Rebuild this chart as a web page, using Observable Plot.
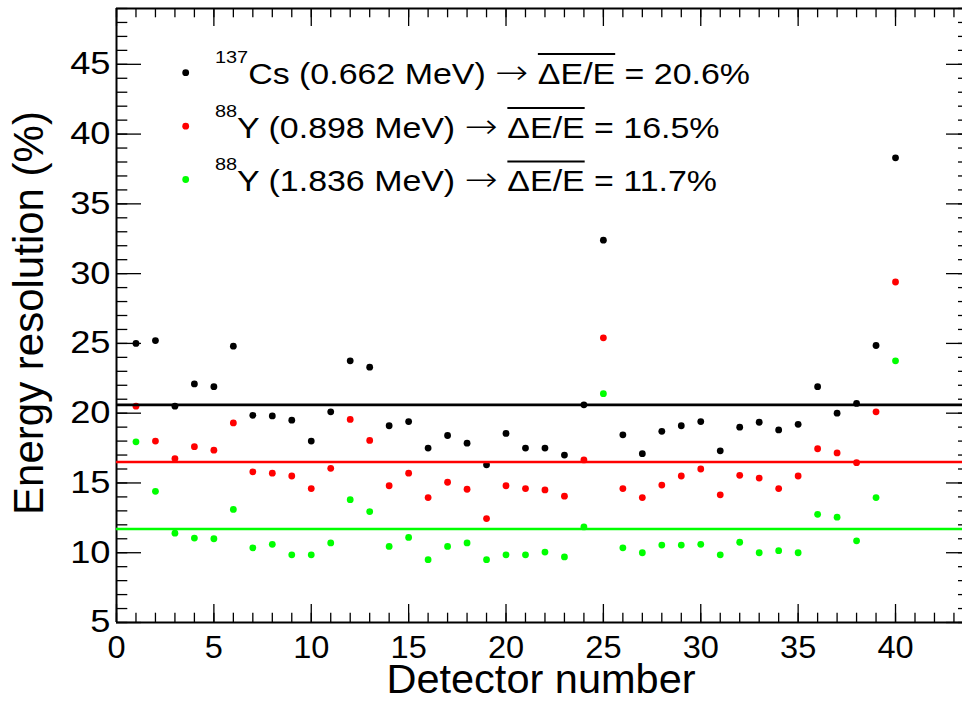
<!DOCTYPE html>
<html>
<head>
<meta charset="utf-8">
<script src="https://cdn.jsdelivr.net/npm/d3@7"></script>
<script src="https://cdn.jsdelivr.net/npm/@observablehq/plot@0.6"></script>
<style>
  html, body { margin: 0; padding: 0; background: #ffffff; }
  #chart { position: relative; width: 962px; height: 702px; overflow: hidden; background: #ffffff; }
</style>
</head>
<body>
<div id="chart"></div>
<script>
// ---------------- data ----------------
const detectors = [1,2,3,4,5,6,7,8,9,10,11,12,13,14,15,16,17,18,19,20,
                   21,22,23,24,25,26,27,28,29,30,31,32,33,34,35,36,37,38,39,40];

// 137Cs (0.662 MeV)
const cs662 = [25.0,25.2,20.5,22.1,21.9,24.8,19.85,19.8,19.5,18.0,
               20.1,23.75,23.3,19.1,19.4,17.5,18.4,17.85,16.3,18.55,
               17.5,17.5,17.0,20.6,32.4,18.45,17.1,18.7,19.1,19.4,
               17.3,19.0,19.35,18.8,19.2,21.9,20.0,20.7,24.85,38.3];

// 88Y (0.898 MeV)
const y898 = [20.5,18.0,16.75,17.6,17.35,19.3,15.8,15.7,15.5,14.6,
              16.05,19.55,18.05,14.8,15.7,13.95,15.05,14.55,12.45,14.8,
              14.6,14.5,14.05,16.65,25.4,14.6,13.95,14.85,15.5,16.0,
              14.15,15.55,15.35,14.6,15.5,17.45,17.15,16.45,20.1,29.4];

// 88Y (1.836 MeV)
const y1836 = [17.95,14.4,11.4,11.05,11.0,13.1,10.35,10.6,9.85,9.85,
               10.7,13.8,12.95,10.45,11.1,9.5,10.45,10.7,9.5,9.85,
               9.85,10.05,9.7,11.85,21.4,10.35,10.0,10.55,10.55,10.6,
               9.85,10.75,10.0,10.15,10.0,12.75,12.55,10.85,13.95,23.75];

const seriesNames = ["137Cs (0.662 MeV)", "88Y (0.898 MeV)", "88Y (1.836 MeV)"];
const isotopeMass = ["137", "88", "88"];
const isotopeSymbol = ["Cs", "Y", "Y"];
const gammaEnergies = ["0.662", "0.898", "1.836"];
const meanValues = [20.6, 16.5, 11.7];
const seriesColors = ["#000000", "#ff0000", "#00ff00"];

const xTickValues = [0, 5, 10, 15, 20, 25, 30, 35, 40];
const yTickValues = [5, 10, 15, 20, 25, 30, 35, 40, 45];
const xLabel = "Detector number";
const yLabel = "Energy resolution (%)";

// ---------------- layout ----------------
const FONT = "'Liberation Sans', Arial, Helvetica, sans-serif";
const W = 962, H = 702;
const X_DOMAIN = [0, 43.85], Y_DOMAIN = [5, 49];
const X_RANGE = [116, 970], Y_RANGE = [622, 8];
const pxX = (X_RANGE[1] - X_RANGE[0]) / (X_DOMAIN[1] - X_DOMAIN[0]);
const pxY = (Y_RANGE[0] - Y_RANGE[1]) / (Y_DOMAIN[1] - Y_DOMAIN[0]);

const xMinor = d3.range(Math.ceil(X_DOMAIN[0]), Math.floor(X_DOMAIN[1]) + 1);
const yMinor = d3.range(Y_DOMAIN[0], Y_DOMAIN[1] + 1);

const series = [cs662, y898, y1836];
const points = [];
series.forEach((vals, s) => vals.forEach((v, i) => points.push({det: detectors[i], value: v, series: seriesNames[s]})));
const means = meanValues.map((m, s) => ({mean: m, series: seriesNames[s]}));

const tickW = 1.3;
const xl = X_DOMAIN[0], xr = X_DOMAIN[1], yb = Y_DOMAIN[0], yt = Y_DOMAIN[1];

const plot = Plot.plot({
  width: W, height: H,
  marginLeft: 116, marginRight: 0, marginTop: 8, marginBottom: 80,
  x: {domain: X_DOMAIN, range: X_RANGE, axis: null},
  y: {domain: Y_DOMAIN, range: Y_RANGE, axis: null},
  color: {type: "ordinal", domain: seriesNames, range: seriesColors},
  style: {fontFamily: FONT, background: "#ffffff", color: "#000000"},
  marks: [
    // frame
    Plot.ruleY([yb, yt], {y: d => d, x1: xl, x2: xr, stroke: "#000", strokeWidth: 2}),
    Plot.ruleX([xl, xr], {x: d => d, y1: yb, y2: yt, stroke: "#000", strokeWidth: 2}),
    // bottom ticks
    Plot.ruleX(xMinor, {x: d => d, y1: yb, y2: yb + 9.3 / pxY, stroke: "#000", strokeWidth: tickW}),
    Plot.ruleX(xTickValues, {x: d => d, y1: yb, y2: yb + 18 / pxY, stroke: "#000", strokeWidth: tickW}),
    // top ticks
    Plot.ruleX(xMinor, {x: d => d, y1: yt, y2: yt - 9.3 / pxY, stroke: "#000", strokeWidth: tickW}),
    Plot.ruleX(xTickValues, {x: d => d, y1: yt, y2: yt - 18 / pxY, stroke: "#000", strokeWidth: tickW}),
    // left ticks
    Plot.ruleY(yMinor, {y: d => d, x1: xl, x2: xl + 11.3 / pxX, stroke: "#000", strokeWidth: tickW}),
    Plot.ruleY(yTickValues, {y: d => d, x1: xl, x2: xl + 25 / pxX, stroke: "#000", strokeWidth: tickW}),
    // right ticks
    Plot.ruleY(yMinor, {y: d => d, x1: xr, x2: xr - 12 / pxX, stroke: "#000", strokeWidth: tickW}),
    Plot.ruleY(yTickValues, {y: d => d, x1: xr, x2: xr - 24 / pxX, stroke: "#000", strokeWidth: tickW}),
    // tick labels
    Plot.text(xTickValues, {x: d => d, y: yb, text: d => String(d), lineAnchor: "top", dy: 13,
      fontSize: 31, fill: "#000", fontFamily: FONT, ariaLabel: "x-tick-labels"}),
    Plot.text(yTickValues, {x: xl, y: d => d, text: d => String(d), textAnchor: "end", dx: -6,
      fontSize: 31, fill: "#000", fontFamily: FONT, ariaLabel: "y-tick-labels"}),
    // data points
    Plot.dot(points, {x: "det", y: "value", fill: "series", r: 3.4, stroke: "none"}),
    // mean lines
    Plot.ruleY(means, {y: "mean", x1: xl, x2: xr, stroke: "series", strokeWidth: 2.7})
  ]
});

document.getElementById("chart").appendChild(plot);

const svg = d3.select(plot);

// widen the tick-label glyphs horizontally (about each label's anchor point)
function stretchTexts(sel, k) {
  sel.selectAll("text").each(function() {
    const tr = this.getAttribute("transform");
    const x = +this.getAttribute("x") || 0, y = +this.getAttribute("y") || 0;
    const extra = `translate(${x},${y}) scale(${k},1) translate(${-x},${-y})`;
    this.setAttribute("transform", (tr ? tr + " " : "") + extra);
  });
}
let ySel = svg.selectAll('g[aria-label="y-tick-labels"]');
if (ySel.empty()) ySel = d3.select(svg.selectAll('g[aria-label="text"]').nodes()[1]);
stretchTexts(ySel, 1.17);
let xSel = svg.selectAll('g[aria-label="x-tick-labels"]');
if (xSel.empty()) xSel = d3.select(svg.selectAll('g[aria-label="text"]').nodes()[0]);
stretchTexts(xSel, 1.05);

// ---------------- titles & legend ----------------
const ann = svg.append("g").attr("font-family", FONT).attr("fill", "#000");

ann.append("text")
  .attr("x", 541).attr("y", 693)
  .attr("text-anchor", "middle")
  .attr("font-size", 41.5)
  .text(xLabel);

ann.append("text")
  .attr("transform", "translate(43,313) rotate(-90)")
  .attr("text-anchor", "middle")
  .attr("font-size", 42)
  .text(yLabel);

const legendBaselines = [83.5, 137.5, 191];
const legendMarkers = [72.7, 126.2, 179.5];
const stretch = 1.17;
seriesNames.forEach((name, s) => {
  ann.append("circle")
    .attr("cx", 185.7).attr("cy", legendMarkers[s]).attr("r", 3.4)
    .attr("fill", seriesColors[s]);
  const g = ann.append("g")
    .attr("transform", `translate(215,${legendBaselines[s]}) scale(${stretch},1)`);
  const t = g.append("text").attr("x", 0).attr("y", 0).attr("font-size", 29)
    .attr("text-anchor", "start")
    .style("white-space", "pre");
  const sup = isotopeMass[s];
  const main = `${isotopeSymbol[s]} (${gammaEnergies[s]} MeV) `;
  const arrow = "\u2192";
  const over = "\u0394E/E";
  const tail = ` = ${meanValues[s].toFixed(1)}%`;
  t.append("tspan").attr("font-size", 17).attr("dy", -21).text(sup);
  t.append("tspan").attr("font-size", 29).attr("dy", 21).text(main);
  t.append("tspan").attr("font-family", "'DejaVu Sans', sans-serif").attr("font-size", 34)
    .attr("font-weight", 300).text(arrow);
  t.append("tspan").text(" ");
  t.append("tspan").text(over);
  t.append("tspan").text(tail);
  const node = t.node();
  const i0 = sup.length + main.length + arrow.length + 1;
  const i1 = i0 + over.length - 1;
  try {
    const xa = node.getStartPositionOfChar(i0).x;
    const xb = node.getEndPositionOfChar(i1).x;
    g.append("line")
      .attr("x1", xa).attr("x2", xb)
      .attr("y1", -29.5).attr("y2", -29.5)
      .attr("stroke", "#000").attr("stroke-width", 2);
  } catch (e) {}
});
</script>
</body>
</html>
